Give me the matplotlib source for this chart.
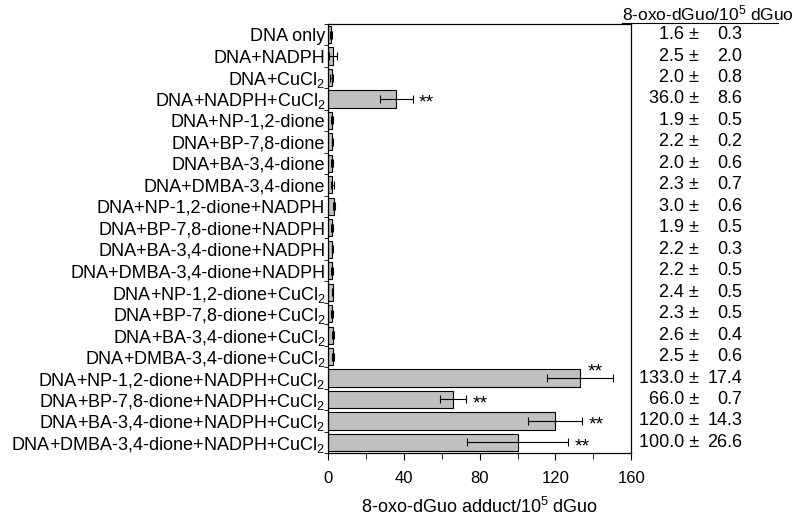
"""Horizontal bar chart of 8-oxo-dGuo adduct levels with a side table."""

import matplotlib

matplotlib.use("Agg")
import matplotlib.pyplot as plt
import numpy as np
from matplotlib.ticker import MultipleLocator, FixedLocator, NullFormatter

plt.rcParams["font.family"] = ["Liberation Sans", "DejaVu Sans"]
plt.rcParams["mathtext.fontset"] = "custom"
plt.rcParams["mathtext.rm"] = "Liberation Sans"
plt.rcParams["mathtext.it"] = "Liberation Sans"

CU = "CuCl$_2$"
labels = [
    "DNA only",
    "DNA+NADPH",
    f"DNA+{CU}",
    f"DNA+NADPH+{CU}",
    "DNA+NP-1,2-dione",
    "DNA+BP-7,8-dione",
    "DNA+BA-3,4-dione",
    "DNA+DMBA-3,4-dione",
    "DNA+NP-1,2-dione+NADPH",
    "DNA+BP-7,8-dione+NADPH",
    "DNA+BA-3,4-dione+NADPH",
    "DNA+DMBA-3,4-dione+NADPH",
    f"DNA+NP-1,2-dione+{CU}",
    f"DNA+BP-7,8-dione+{CU}",
    f"DNA+BA-3,4-dione+{CU}",
    f"DNA+DMBA-3,4-dione+{CU}",
    f"DNA+NP-1,2-dione+NADPH+{CU}",
    f"DNA+BP-7,8-dione+NADPH+{CU}",
    f"DNA+BA-3,4-dione+NADPH+{CU}",
    f"DNA+DMBA-3,4-dione+NADPH+{CU}",
]
means = [1.6, 2.5, 2.0, 36.0, 1.9, 2.2, 2.0, 2.3, 3.0, 1.9,
         2.2, 2.2, 2.4, 2.3, 2.6, 2.5, 133.0, 66.0, 120.0, 100.0]
# errors as printed in the table
table_errors = [0.3, 2.0, 0.8, 8.6, 0.5, 0.2, 0.6, 0.7, 0.6, 0.5,
                0.3, 0.5, 0.5, 0.5, 0.4, 0.6, 17.4, 0.7, 14.3, 26.6]
# errors as drawn (BP-7,8-dione+NADPH+CuCl2 bar shows about 7)
bar_errors = [0.3, 2.0, 0.8, 8.6, 0.5, 0.2, 0.6, 0.7, 0.6, 0.5,
              0.3, 0.5, 0.5, 0.5, 0.4, 0.6, 17.4, 7.0, 14.3, 26.6]
significant = [3, 16, 17, 18, 19]

FS = 13

fig = plt.figure(figsize=(8, 5.3), dpi=100)
ax = fig.add_axes([0.41, 0.145, 0.379, 0.81])

y = np.arange(len(labels))
ax.barh(y, means, height=0.8, color="#c0c0c0", edgecolor="black", linewidth=0.8,
        xerr=bar_errors, error_kw=dict(ecolor="black", elinewidth=0.8, capsize=3, capthick=0.8))

for i in significant:
    end = means[i] + bar_errors[i]
    if end + 15 > 160:
        # not enough room right of the error bar: put the stars above it
        ax.text(160 - 23, y[i] - 0.3, "**", ha="left", va="center", fontsize=FS + 1)
    else:
        ax.text(end + 3.5, y[i] + 0.2, "**", ha="left", va="center", fontsize=FS + 1)

ax.set_ylim(len(labels) - 0.5, -0.5)
ax.set_xlim(0, 160)
ax.set_yticks(y)
ax.set_yticklabels(labels, fontsize=FS)
ax.tick_params(axis="y", length=0, pad=2)
ax.yaxis.set_minor_locator(FixedLocator(np.arange(-0.5, len(labels), 1.0)))
ax.tick_params(axis="y", which="minor", length=3, direction="out")

ax.xaxis.set_major_locator(MultipleLocator(40))
ax.xaxis.set_minor_locator(MultipleLocator(20))
ax.xaxis.set_minor_formatter(NullFormatter())
ax.tick_params(axis="x", which="major", length=5, labelsize=FS - 1, pad=8)
ax.tick_params(axis="x", which="minor", length=4)
ax.set_xlabel("8-oxo-dGuo adduct/10$^5$ dGuo", fontsize=FS, labelpad=8)

for s in ax.spines.values():
    s.set_linewidth(0.9)

# side table
trans = ax.get_yaxis_transform()
for i in range(len(labels)):
    ax.text(1.224, y[i], f"{means[i]:.1f} \u00b1", transform=trans,
            ha="right", va="center", fontsize=FS, clip_on=False)
    ax.text(1.366, y[i], f"{table_errors[i]:.1f}", transform=trans,
            ha="right", va="center", fontsize=FS, clip_on=False)

fig.text(0.7775, 0.975, "8-oxo-dGuo/10$^5$ dGuo", ha="left", va="center", fontsize=FS - 0.5)
fig.add_artist(plt.Line2D([0.7775, 0.9725], [0.957, 0.957], color="black", linewidth=0.8))

fig.savefig("out.png", dpi=100)
